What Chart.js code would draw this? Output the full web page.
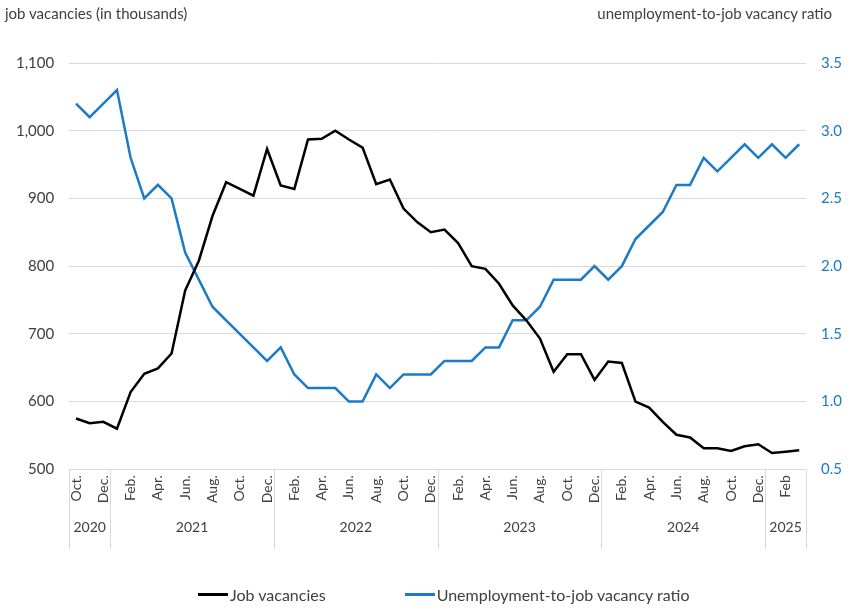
<!DOCTYPE html>
<html>
<head>
<meta charset="utf-8">
<script src="https://cdn.jsdelivr.net/npm/chart.js@4.4.1/dist/chart.umd.min.js"></script>
<style>
  html, body { margin: 0; padding: 0; background: #fff; }
  #wrap { position: relative; width: 858px; height: 613px; }
  .axis-title { position: absolute; top: 4px; font: 15px Lato, sans-serif; color: #404040; white-space: nowrap; }
  #legend { position: absolute; left: 198px; top: 585px; display: flex; align-items: center; font: 16px Lato, sans-serif; color: #404040; }
  #legend .item { display: flex; align-items: center; margin-right: 79px; white-space: nowrap; }
  #legend .swatch { width: 30px; height: 3px; margin-right: 2px; }
</style>
</head>
<body>
<div id="wrap">
  <canvas id="chart" width="858" height="613"></canvas>
  <div class="axis-title" style="left:5px">job vacancies (in thousands)</div>
  <div class="axis-title" style="right:26px">unemployment-to-job vacancy ratio</div>
  <div id="legend"></div>
</div>
<script>
// Catégories : mois d'octobre 2020 à mars 2025
var months2020 = ['Oct.', 'Nov.', 'Dec.'];
var monthsYear = ['Jan.', 'Feb.', 'Mar.', 'Apr.', 'May', 'Jun.', 'Jul.', 'Aug.', 'Sep.', 'Oct.', 'Nov.', 'Dec.'];
var months2025 = ['Jan.', 'Feb', 'Mar.'];
var monthLabels = [].concat(months2020, monthsYear, monthsYear, monthsYear, monthsYear, months2025);

var years = ['2020', '2021', '2022', '2023', '2024', '2025'];
var monthsPerYear = [3, 12, 12, 12, 12, 3];

// Job vacancies (in thousands)
var vacancies = [
  575, 568, 570,
  560, 614, 641, 649, 671, 764, 808, 874, 924, 914, 904, 973,
  919, 914, 987, 988, 1000, 987, 975, 921, 928, 885, 865, 850,
  854, 834, 800, 796, 774, 742, 720, 693, 644, 670, 670, 632,
  659, 657, 600, 591, 570, 551, 547, 531, 531, 527, 534, 537,
  524, 526, 528
];

// Unemployment-to-job vacancy ratio
var ratio = [
  3.2, 3.1, 3.2,
  3.3, 2.8, 2.5, 2.6, 2.5, 2.1, 1.9, 1.7, 1.6, 1.5, 1.4, 1.3,
  1.4, 1.2, 1.1, 1.1, 1.1, 1.0, 1.0, 1.2, 1.1, 1.2, 1.2, 1.2,
  1.3, 1.3, 1.3, 1.4, 1.4, 1.6, 1.6, 1.7, 1.9, 1.9, 1.9, 2.0,
  1.9, 2.0, 2.2, 2.3, 2.4, 2.6, 2.6, 2.8, 2.7, 2.8, 2.9, 2.8,
  2.9, 2.8, 2.9
];

var blue = '#1b7bc6';
var textColor = '#404040';
var gridColor = '#d9d9d9';
var fontName = 'Lato, sans-serif';

// Limites et centres des années (en indices de catégories)
var yearBounds = [-0.5];
var yearCenters = [];
monthsPerYear.forEach(function (n) {
  var start = yearBounds[yearBounds.length - 1];
  yearCenters.push(start + n / 2);
  yearBounds.push(start + n);
});

// Traits verticaux séparant les années sous l'axe
var yearSeparators = {
  id: 'yearSeparators',
  afterDraw: function (chart) {
    var x2 = chart.scales.x2;
    var ctx = chart.ctx;
    ctx.save();
    ctx.strokeStyle = gridColor;
    ctx.lineWidth = 1;
    yearBounds.forEach(function (b) {
      var px = Math.round(x2.getPixelForValue(b)) + 0.5;
      ctx.beginPath();
      ctx.moveTo(px, chart.chartArea.bottom);
      ctx.lineTo(px, x2.bottom + 3);
      ctx.stroke();
    });
    ctx.restore();
  }
};

var chart = new Chart(document.getElementById('chart').getContext('2d'), {
  type: 'line',
  data: {
    labels: monthLabels,
    datasets: [{
      label: 'Job vacancies',
      data: vacancies,
      borderColor: '#000000',
      backgroundColor: '#000000',
      borderWidth: 2.5,
      pointRadius: 0,
      tension: 0,
      yAxisID: 'y',
      xAxisID: 'x'
    }, {
      label: 'Unemployment-to-job vacancy ratio',
      data: ratio,
      borderColor: blue,
      backgroundColor: blue,
      borderWidth: 2.5,
      pointRadius: 0,
      tension: 0,
      yAxisID: 'y1',
      xAxisID: 'x'
    }]
  },
  options: {
    responsive: false,
    animation: false,
    layout: { padding: { top: 63, left: 1, right: 1, bottom: 67 } },
    plugins: {
      tooltip: { enabled: false },
      legend: { display: false }
    },
    scales: {
      x: {
        type: 'category',
        offset: true,
        grid: { display: false, drawTicks: false },
        border: { display: false },
        ticks: {
          autoSkip: false,
          minRotation: 90,
          maxRotation: 90,
          padding: 6,
          color: textColor,
          font: { family: fontName, size: 14 },
          callback: function (value, index) {
            return index % 2 === 0 ? monthLabels[index] : '';
          }
        }
      },
      x2: {
        type: 'linear',
        position: 'bottom',
        weight: 1,
        min: -0.5,
        max: monthLabels.length - 0.5,
        grid: { display: false, drawTicks: false },
        border: { display: false },
        afterBuildTicks: function (scale) {
          scale.ticks = yearCenters.map(function (v) { return { value: v }; });
        },
        ticks: {
          autoSkip: false,
          maxRotation: 0,
          padding: 10,
          color: textColor,
          font: { family: fontName, size: 14 },
          callback: function (value, index) { return years[index]; }
        }
      },
      y: {
        position: 'left',
        min: 500,
        max: 1100,
        grid: { color: gridColor, drawTicks: false },
        border: { display: false },
        ticks: {
          stepSize: 100,
          padding: 15,
          color: textColor,
          font: { family: fontName, size: 15 },
          callback: function (v) { return v.toLocaleString('en-US'); }
        }
      },
      y1: {
        position: 'right',
        min: 0.5,
        max: 3.5,
        grid: { display: false, drawTicks: false },
        border: { display: false },
        ticks: {
          stepSize: 0.5,
          padding: 15,
          color: blue,
          font: { family: fontName, size: 15 },
          callback: function (v) { return v.toFixed(1); }
        }
      }
    }
  },
  plugins: [yearSeparators]
});

// Légende en HTML construite à partir des séries
var legend = document.getElementById('legend');
chart.data.datasets.forEach(function (ds) {
  var item = document.createElement('div');
  item.className = 'item';
  var swatch = document.createElement('span');
  swatch.className = 'swatch';
  swatch.style.background = ds.borderColor;
  var text = document.createElement('span');
  text.textContent = ds.label;
  item.appendChild(swatch);
  item.appendChild(text);
  legend.appendChild(item);
});
</script>
</body>
</html>
